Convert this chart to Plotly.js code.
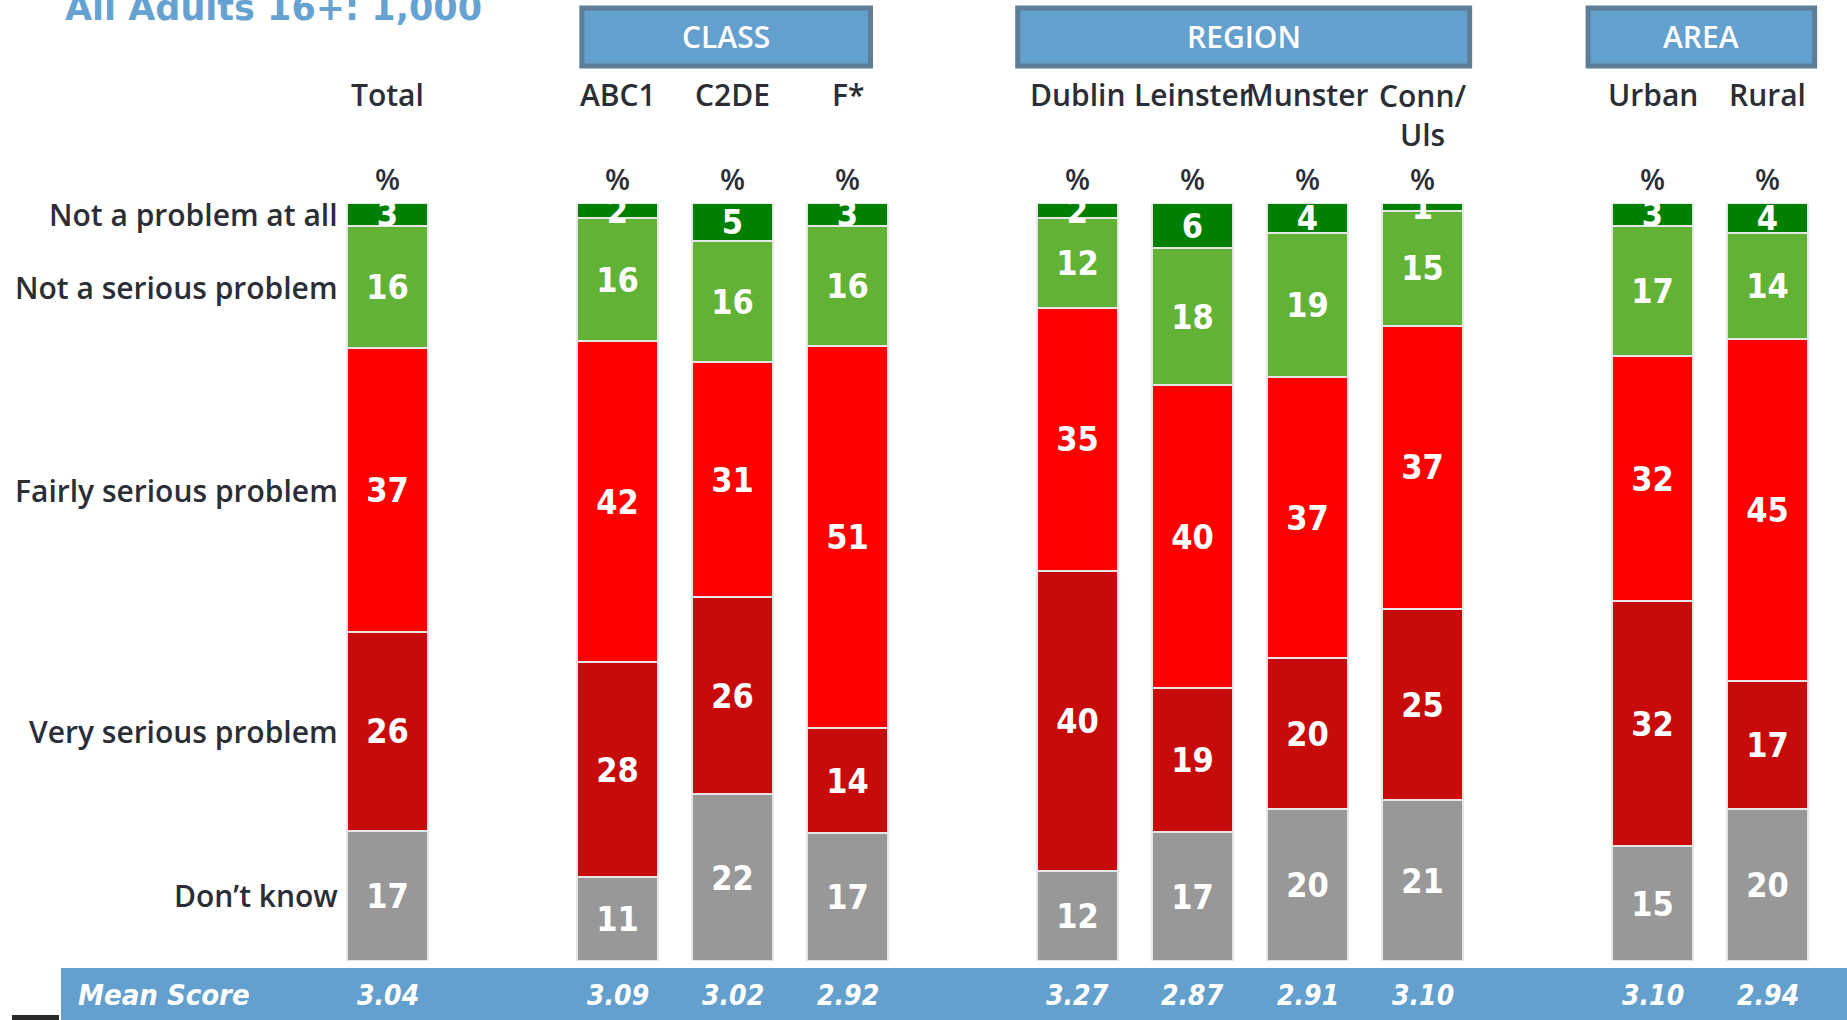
<!DOCTYPE html>
<html><head><meta charset="utf-8">
<script src="https://cdn.plot.ly/plotly-3.0.1.min.js"></script>
<style>html,body{margin:0;padding:0;background:#fff;overflow:hidden}#chart{width:1847px;height:1020px}</style>
</head><body><div id="chart"></div>
<script>
// ---- data ----
const categories = ['Total','ABC1','C2DE','F*','Dublin','Leinster','Munster','Conn/Uls','Urban','Rural'];
const groups = ['','CLASS','CLASS','CLASS','REGION','REGION','REGION','REGION','AREA','AREA'];
const notAtAll = [3,2,5,3,2,6,4,1,3,4];
const notSerious = [16,16,16,16,12,18,19,15,17,14];
const fairlySerious = [37,42,31,51,35,40,37,37,32,45];
const verySerious = [26,28,26,14,40,19,20,25,32,17];
const dontKnow = [17,11,22,17,12,17,20,21,15,20];
const meanScores = ['3.04','3.09','3.02','2.92','3.27','2.87','2.91','3.10','3.10','2.94'];
const seriesNames = ['Don’t know','Very serious problem','Fairly serious problem','Not a serious problem','Not a problem at all'];
const seriesValues = [dontKnow, verySerious, fairlySerious, notSerious, notAtAll];
const groupLabels = ['CLASS','REGION','AREA'];

// ---- styles / layout ----
const seriesColors = ['#989898','#C70B0B','#FF0000','#62B236','#008000'];
const BLUE = '#63A0CE';
const DARK = '#2b2e35';
const LABEL_FONT = 'Open Sans, DejaVu Sans';
const W = 1847, H = 1020, ML = 330, MR = 22, MT = 203, MB = 59;
const PW = W - ML - MR, PH = H - MT - MB;
const px2paperX = p => (p - ML) / PW;
const px2paperY = p => (H - MB - p) / PH;

// x slots: one empty slot between groups
const xpos = [];
let slot = 0;
categories.forEach((c, i) => {
  if (i > 0 && groups[i] !== groups[i-1]) slot += 1;
  xpos.push(slot);
  slot += 1;
});

const traces = seriesValues.map((vals, k) => ({
  type: 'bar',
  name: seriesNames[k],
  x: xpos,
  y: vals,
  text: vals.map(String),
  textposition: 'inside',
  insidetextanchor: 'middle',
  constraintext: 'none',
  textangle: 0,
  textfont: {family: 'DejaVu Sans Condensed, DejaVu Sans', size: 34, color: '#ffffff', weight: 'bold'},
  marker: {color: seriesColors[k], line: {color: '#e6e6e6', width: 2}},
  hoverinfo: 'skip',
  cliponaxis: true
}));

const annotations = [];
const shapes = [];

// title (partly cut off at top)
annotations.push({xref: 'paper', yref: 'paper', x: px2paperX(63), y: px2paperY(8), xanchor: 'left', yanchor: 'middle',
  text: 'All Adults 16+: 1,000', showarrow: false,
  font: {family: 'DejaVu Sans', size: 35, color: '#65A2D1', weight: 'bold'}});

// column headers and % row
categories.forEach((c, i) => {
  const multi = c.includes('/');
  annotations.push({xref: 'x', yref: 'paper', x: xpos[i], y: px2paperY(multi ? 115 : 95), yanchor: 'middle',
    text: multi ? c.replace('/', '/<br>') : c, showarrow: false,
    font: {family: LABEL_FONT, size: 30, color: DARK, weight: 600}});
  annotations.push({xref: 'x', yref: 'paper', x: xpos[i], y: px2paperY(178), yanchor: 'middle',
    text: '%', showarrow: false, font: {family: LABEL_FONT, size: 29, color: DARK, weight: 600}});
  annotations.push({xref: 'x', yref: 'paper', x: xpos[i], y: px2paperY(995), yanchor: 'middle',
    text: '<i>' + meanScores[i] + '</i>', showarrow: false,
    font: {family: 'DejaVu Sans Condensed, DejaVu Sans', size: 28, color: '#ffffff', weight: 'bold'}});
});

// row labels at the Total bar's segment centres
const totalSum = seriesValues.reduce((s, v) => s + v[0], 0);
let cum = 0;
seriesValues.forEach((vals, k) => {
  const mid = (cum + vals[0] / 2) / totalSum * 100;
  cum += vals[0];
  annotations.push({xref: 'x', yref: 'y', x: xpos[0] - 0.35, xshift: -7, y: mid, xanchor: 'right', yanchor: 'middle',
    text: seriesNames[k], showarrow: false, font: {family: LABEL_FONT, size: 30, color: DARK, weight: 600}});
});

// group header boxes
const boxExtent = {CLASS: [-0.31, 0.20], REGION: [-0.52, 0.41], AREA: [-0.56, 0.41]};
groupLabels.forEach(g => {
  const idx = groups.map((v, i) => v === g ? i : -1).filter(i => i >= 0);
  const x0 = xpos[idx[0]] + boxExtent[g][0];
  const x1 = xpos[idx[idx.length - 1]] + boxExtent[g][1];
  shapes.push({type: 'rect', xref: 'x', yref: 'paper', x0: x0, x1: x1, y0: px2paperY(66), y1: px2paperY(8),
    fillcolor: BLUE, line: {color: '#5E7E98', width: 5}, layer: 'above'});
  annotations.push({xref: 'x', yref: 'paper', x: (x0 + x1) / 2, y: px2paperY(37), yanchor: 'middle',
    text: g, showarrow: false, font: {family: LABEL_FONT, size: 30, color: '#ffffff', weight: 600}});
});

// mean score band
shapes.push({type: 'rect', xref: 'paper', yref: 'paper', x0: px2paperX(61), x1: px2paperX(W + 5),
  y0: px2paperY(H + 5), y1: px2paperY(968), fillcolor: BLUE, line: {width: 0}, layer: 'below'});
shapes.push({type: 'rect', xref: 'paper', yref: 'paper', x0: px2paperX(12), x1: px2paperX(59),
  y0: px2paperY(H + 5), y1: px2paperY(1015), fillcolor: '#2a2a2a', line: {width: 0}, layer: 'below'});
annotations.push({xref: 'paper', yref: 'paper', x: px2paperX(76), y: px2paperY(995), xanchor: 'left', yanchor: 'middle',
  text: '<i>Mean Score</i>', showarrow: false,
  font: {family: 'DejaVu Sans Condensed, DejaVu Sans', size: 29, color: '#ffffff', weight: 'bold'}});

const layout = {
  width: W, height: H,
  margin: {l: ML, r: MR, t: MT, b: MB, pad: 0},
  paper_bgcolor: '#ffffff', plot_bgcolor: '#ffffff',
  barmode: 'stack', barnorm: 'percent', bargap: 0.3,
  showlegend: false,
  xaxis: {visible: false, range: [-0.5, slot - 0.5], fixedrange: true},
  yaxis: {visible: false, range: [0, 100], fixedrange: true},
  annotations: annotations, shapes: shapes
};

Plotly.newPlot('chart', traces, layout, {displayModeBar: false, staticPlot: true});
</script>
</body></html>
